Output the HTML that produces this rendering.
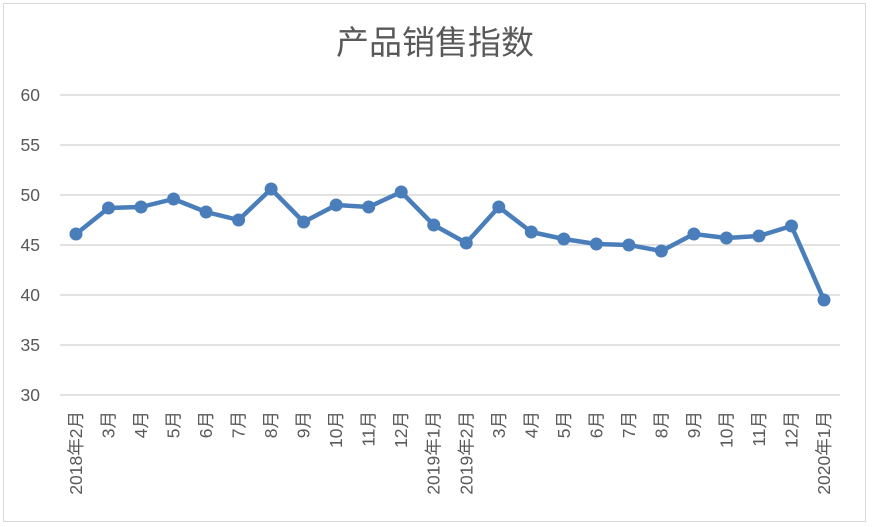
<!DOCTYPE html>
<html><head><meta charset="utf-8"><style>
html,body{margin:0;padding:0;background:#fff;}
svg{display:block;}
text{font-family:"Liberation Sans","Noto Sans CJK SC",sans-serif;fill:#595959;}
</style></head><body>
<svg width="872" height="527" viewBox="0 0 872 527">
<rect x="3.5" y="3.5" width="862" height="518" fill="#fff" stroke="#d9d9d9" stroke-width="1"/>
<text x="435" y="54" font-size="33" text-anchor="middle" style="font-family:'Noto Sans CJK SC',sans-serif">产品销售指数</text>
<g stroke="#d9d9d9" stroke-width="1.5">
<line x1="60" x2="840" y1="95" y2="95"/>
<line x1="60" x2="840" y1="145" y2="145"/>
<line x1="60" x2="840" y1="195" y2="195"/>
<line x1="60" x2="840" y1="245" y2="245"/>
<line x1="60" x2="840" y1="295" y2="295"/>
<line x1="60" x2="840" y1="345" y2="345"/>
<line x1="60" x2="840" y1="395" y2="395"/>
</g>
<g font-size="17.5" text-anchor="end">
<text x="40" y="101">60</text><text x="40" y="151">55</text><text x="40" y="201">50</text>
<text x="40" y="251">45</text><text x="40" y="301">40</text><text x="40" y="351">35</text><text x="40" y="401">30</text>
</g>
<g id="s"></g>
<g id="l" font-size="17.5" text-anchor="end"></g>
</svg>
<script>
var v=[46.1,48.7,48.8,49.6,48.3,47.5,50.6,47.3,49.0,48.8,50.3,47.0,45.2,48.8,46.3,45.6,45.1,45.0,44.4,46.1,45.7,45.9,46.9,39.5];
var lab=["2018年2月","3月","4月","5月","6月","7月","8月","9月","10月","11月","12月","2019年1月","2019年2月","3月","4月","5月","6月","7月","8月","9月","10月","11月","12月","2020年1月"];
var ns="http://www.w3.org/2000/svg",s=document.getElementById("s"),l=document.getElementById("l");
var pts=v.map(function(d,i){return [76+i*(748/23),395-(d-30)*10];});
var p=document.createElementNS(ns,"polyline");
p.setAttribute("points",pts.map(function(a){return a.join(",")}).join(" "));
p.setAttribute("fill","none");p.setAttribute("stroke","#4a7ebb");p.setAttribute("stroke-width","4.5");p.setAttribute("stroke-linejoin","round");
s.appendChild(p);
pts.forEach(function(a,i){
var c=document.createElementNS(ns,"circle");c.setAttribute("cx",a[0]);c.setAttribute("cy",a[1]);c.setAttribute("r","6.5");c.setAttribute("fill","#4a7ebb");s.appendChild(c);
var t=document.createElementNS(ns,"text");t.setAttribute("transform","translate("+(a[0]+6)+",411) rotate(-90)");t.textContent=lab[i];l.appendChild(t);
});
</script>
</body></html>
